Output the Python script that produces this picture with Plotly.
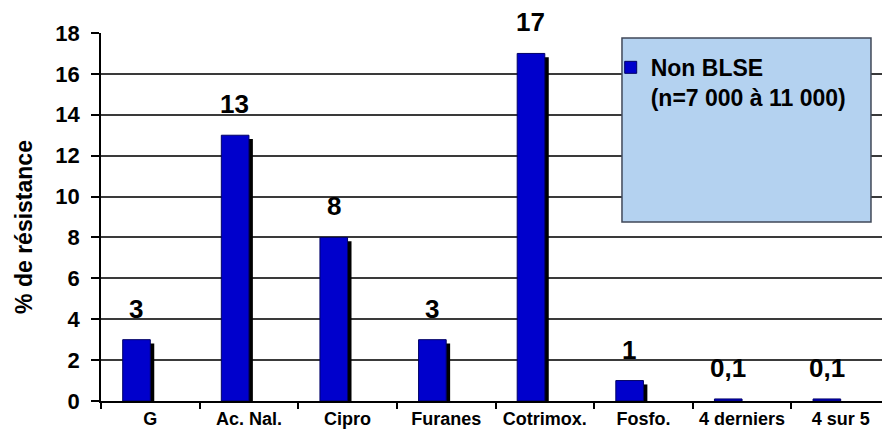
import plotly.graph_objects as go

categories = ["G", "Ac. Nal.", "Cipro", "Furanes", "Cotrimox.", "Fosfo.", "4 derniers", "4 sur 5"]
values = [3, 13, 8, 3, 17, 1, 0.1, 0.1]
value_labels = ["3", "13", "8", "3", "17", "1", "0,1", "0,1"]
y_ticks = [0, 2, 4, 6, 8, 10, 12, 14, 16, 18]
series_name = "Non BLSE"
series_note = "(n=7 000 à 11 000)"
y_title = "% de résistance"

FONT = "Liberation Sans, Arial, sans-serif"
BAR_W = 0.28
BAR_OFF = -0.28
SH_DX = 0.04
SH_DY = 0.19

fig = go.Figure()
# shadow
fig.add_trace(go.Bar(
    x=categories, y=values, base=-SH_DY,
    offset=BAR_OFF + SH_DX, width=BAR_W,
    marker=dict(color="#000000", line=dict(width=0)),
    showlegend=False, hoverinfo="skip",
))
fig.add_trace(go.Bar(
    x=categories, y=values,
    offset=BAR_OFF, width=BAR_W,
    marker=dict(color="#0000CC", line=dict(color="#000066", width=1)),
    name="<b>" + series_name + "</b><br><b>" + series_note + "</b>",
    showlegend=True,
))

for c, v, t in zip(categories, values, value_labels):
    fig.add_annotation(
        x=c, y=v, xref="x", yref="y", text="<b>" + t + "</b>",
        showarrow=False, yanchor="bottom", yshift=15, xshift=-14,
        borderpad=0,
        font=dict(family=FONT, size=26, color="#000000"),
    )

fig.add_annotation(
    x=-0.0976, y=0.473, xref="paper", yref="paper",
    text="<b>" + y_title + "</b>", textangle=-90, showarrow=False,
    xanchor="center", yanchor="middle",
    font=dict(family=FONT, size=23, color="#000000"),
)

fig.add_shape(
    type="rect", xref="paper", yref="paper",
    x0=0.6603, x1=0.9759, y0=0.4864, y1=0.9864,
    fillcolor="#b4d2f0", line=dict(color="#404858", width=1.5), layer="above",
)

# page body adds an 8px offset, so the figure is 8px smaller and shifted
fig.update_layout(
    width=882, height=430,
    margin=dict(l=93, r=0, t=25, b=37, autoexpand=False),
    paper_bgcolor="#ffffff", plot_bgcolor="#ffffff",
    barmode="overlay",
    font=dict(family=FONT, color="#000000"),
    legend=dict(
        x=0.646, y=0.965, xanchor="left", yanchor="top",
        bgcolor="rgba(0,0,0,0)", borderwidth=0,
        font=dict(family=FONT, size=23, color="#000000"),
        valign="top", itemwidth=30,
    ),
    xaxis=dict(
        range=[-0.5, 7.5], tickson="boundaries", ticks="outside", ticklen=6,
        tickcolor="#000000", tickwidth=1.5, automargin=False, tickangle=0,
        showline=True, linecolor="#000000", linewidth=2,
        tickfont=dict(family=FONT, size=18, color="#000000", weight="bold"),
        showgrid=False,
    ),
    yaxis=dict(
        range=[0, 18], tickvals=y_ticks, ticktext=[str(t) for t in y_ticks],
        ticks="outside", ticklen=8, tickcolor="#000000", tickwidth=1.5,
        ticklabelstandoff=7,
        automargin=False,
        showline=True, linecolor="#000000", linewidth=1.5,
        showgrid=True, gridcolor="#3a3a3a", gridwidth=1.5,
        zeroline=False,
        tickfont=dict(family=FONT, size=22, color="#000000", weight="bold"),
    ),
)

fig.write_html("out.html")
